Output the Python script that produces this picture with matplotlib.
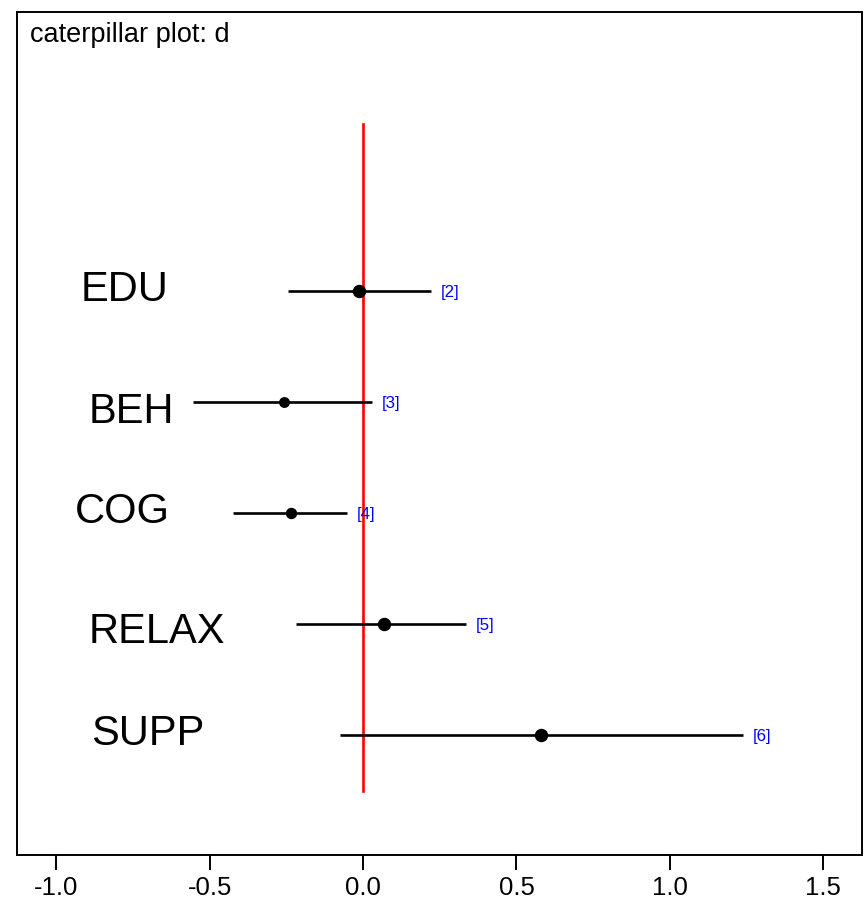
import matplotlib
matplotlib.use('Agg')
import matplotlib.pyplot as plt

plt.rcParams['font.family'] = ['Liberation Sans', 'DejaVu Sans']
# 負號用一般的 hyphen
plt.rcParams['axes.unicode_minus'] = False

# 各組的估計值與信賴區間 (由上到下)
groups = ['EDU', 'BEH', 'COG', 'RELAX', 'SUPP']
est = [-0.012, -0.258, -0.236, 0.069, 0.581]
lower = [-0.244, -0.554, -0.423, -0.219, -0.075]
upper = [0.222, 0.028, -0.053, 0.336, 1.238]
tags = ['[2]', '[3]', '[4]', '[5]', '[6]']
xticks = [-1.0, -0.5, 0.0, 0.5, 1.0, 1.5]

# 組名的擺放位置 (左邊 x, 相對於列的上下偏移)
name_x = [-0.922, -0.896, -0.939, -0.893, -0.887]
name_dy = [0.01, -0.095, 0.01, -0.07, 0.01]
dot_size = [12, 9.5, 10, 12, 12]


def main():
    fig = plt.figure(figsize=(8.67, 8.98), dpi=100)
    ax = fig.add_axes([0.0196, 0.0479, 0.9746, 0.9387])

    n = len(groups)
    rows = [n - i for i in range(n)]  # EDU 在最上面

    # 零效果參考線
    ax.plot([0, 0], [0.5, n + 1.5], color='red', lw=1.9, zorder=1)

    for i in range(n):
        y = rows[i]
        ax.plot([lower[i], upper[i]], [y, y], color='black', lw=1.9,
                solid_capstyle='butt', zorder=2)
        ax.plot(est[i], y, 'o', color='black', ms=dot_size[i] * 0.72,
                zorder=3)
        ax.annotate(tags[i], (upper[i], y), xytext=(7, -1),
                    textcoords='offset points', color='blue',
                    fontsize=12.2, va='center', ha='left')
        ax.text(name_x[i], y + name_dy[i], groups[i], fontsize=30,
                va='center', ha='left')

    ax.text(0.015, 0.988, 'caterpillar plot: d', transform=ax.transAxes,
            fontsize=19.5, va='top', ha='left')

    ax.set_xlim(-1.128, 1.626)
    ax.set_ylim(-0.08, 7.51)
    ax.set_xticks(xticks)
    ax.set_xticklabels(['%.1f' % t for t in xticks])
    ax.set_yticks([])
    ax.tick_params(axis='x', length=10.8, width=1.4, pad=4, labelsize=18.5)
    for sp in ax.spines.values():
        sp.set_linewidth(1.4)

    plt.savefig('out.png', dpi=100)


if __name__ == '__main__':
    main()
